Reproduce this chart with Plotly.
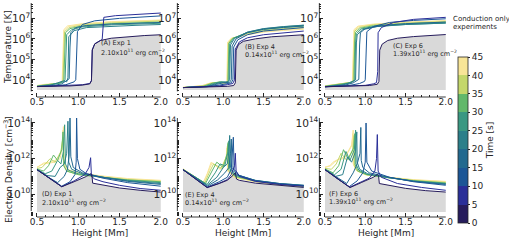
import plotly.graph_objects as go

# ---------------- data ----------------
times = [0, 5, 10, 15, 20, 25, 30, 35, 40, 45]
cbar_ticks = [0, 5, 10, 15, 20, 25, 30, 35, 40, 45]
bin_colors = ["#261c5c", "#2a2f98", "#1c5696", "#22698f", "#2b7f8a",
              "#3a9882", "#62b86b", "#c4d76b", "#f8e597"]

panel_labels = ["(A) Exp 1", "(B) Exp 4", "(C) Exp 6", "(D) Exp 1", "(E) Exp 4", "(F) Exp 6"]
panel_energy = ["2.10x10<sup>11</sup> erg cm<sup>−2</sup>", "0.14x10<sup>11</sup> erg cm<sup>−2</sup>",
                "1.39x10<sup>11</sup> erg cm<sup>−2</sup>"]

# Temperature, log10(T [K]) vs height [Mm]
A_x = [
    [0.5, 0.7, 0.9, 1.05, 1.14, 1.16, 1.17, 1.2, 1.27, 1.4, 1.6, 1.8, 2.0],
    [0.5, 0.7, 0.9, 1.05, 1.14, 1.16, 1.17, 1.2, 1.29, 1.30, 1.31, 1.45, 1.7, 2.0],
    [0.5, 0.7, 0.85, 0.95, 0.97, 0.98, 0.99, 1.05, 1.2, 1.5, 1.75, 2.0],
    [0.5, 0.7, 0.8, 0.86, 0.89, 0.9, 0.91, 0.97, 1.1, 1.4, 1.7, 2.0],
    [0.5, 0.65, 0.75, 0.82, 0.86, 0.875, 0.885, 0.95, 1.1, 1.4, 1.7, 2.0],
    [0.5, 0.65, 0.75, 0.82, 0.84, 0.85, 0.86, 0.92, 1.05, 1.4, 1.7, 2.0],
    [0.5, 0.62, 0.72, 0.8, 0.825, 0.835, 0.845, 0.9, 1.05, 1.4, 1.7, 2.0],
    [0.5, 0.6, 0.7, 0.78, 0.815, 0.825, 0.835, 0.89, 1.05, 1.4, 1.7, 2.0],
    [0.5, 0.6, 0.7, 0.77, 0.81, 0.82, 0.83, 0.88, 1.05, 1.4, 1.7, 2.0],
    [0.5, 0.6, 0.7, 0.77, 0.805, 0.815, 0.825, 0.87, 1.05, 1.4, 1.7, 2.0],
]
A_logT = [
    [3.67, 3.68, 3.70, 3.74, 3.80, 3.95, 5.45, 5.75, 5.92, 6.03, 6.11, 6.16, 6.20],
    [3.67, 3.69, 3.72, 3.76, 3.82, 3.97, 5.47, 5.76, 5.97, 6.6, 7.05, 7.13, 7.2, 7.26],
    [3.67, 3.70, 3.76, 3.90, 4.0, 5.5, 6.35, 6.7, 6.88, 7.0, 7.07, 7.12],
    [3.67, 3.72, 3.8, 3.95, 4.05, 5.6, 6.3, 6.55, 6.65, 6.72, 6.76, 6.8],
    [3.67, 3.72, 3.85, 3.95, 3.9, 4.1, 6.1, 6.4, 6.55, 6.62, 6.66, 6.7],
    [3.68, 3.74, 3.82, 3.9, 4.0, 5.9, 6.2, 6.45, 6.58, 6.68, 6.73, 6.76],
    [3.69, 3.75, 3.8, 3.86, 3.95, 5.9, 6.3, 6.5, 6.63, 6.74, 6.79, 6.82],
    [3.7, 3.76, 3.8, 3.84, 3.95, 5.9, 6.35, 6.55, 6.68, 6.78, 6.83, 6.87],
    [3.71, 3.77, 3.8, 3.84, 3.95, 6.0, 6.42, 6.6, 6.72, 6.82, 6.87, 6.9],
    [3.72, 3.78, 3.8, 3.84, 3.95, 6.05, 6.45, 6.63, 6.74, 6.84, 6.88, 6.92],
]
B_x = [
    [0.5, 0.7, 0.9, 1.05, 1.13, 1.15, 1.16, 1.19, 1.25, 1.4, 1.6, 1.8, 2.0],
    [0.5, 0.8, 0.95, 1.05, 1.12, 1.14, 1.15, 1.2, 1.3, 1.5, 1.75, 2.0],
    [0.5, 0.8, 0.95, 1.04, 1.1, 1.12, 1.13, 1.18, 1.3, 1.5, 1.75, 2.0],
    [0.5, 0.8, 0.92, 1.0, 1.08, 1.1, 1.11, 1.16, 1.3, 1.5, 1.75, 2.0],
    [0.5, 0.8, 0.9, 0.98, 1.06, 1.08, 1.09, 1.14, 1.3, 1.5, 1.75, 2.0],
    [0.5, 0.78, 0.88, 0.97, 1.05, 1.07, 1.08, 1.13, 1.3, 1.5, 1.75, 2.0],
    [0.5, 0.76, 0.87, 0.96, 1.04, 1.06, 1.07, 1.12, 1.3, 1.5, 1.75, 2.0],
    [0.5, 0.75, 0.86, 0.95, 1.035, 1.055, 1.065, 1.11, 1.3, 1.5, 1.75, 2.0],
    [0.5, 0.74, 0.85, 0.94, 1.03, 1.05, 1.06, 1.1, 1.3, 1.5, 1.75, 2.0],
    [0.5, 0.73, 0.84, 0.93, 1.03, 1.045, 1.055, 1.1, 1.3, 1.5, 1.75, 2.0],
]
B_logT = [
    [3.62, 3.63, 3.65, 3.68, 3.72, 3.85, 5.45, 5.72, 5.88, 6.0, 6.1, 6.15, 6.2],
    [3.62, 3.65, 3.7, 3.76, 3.82, 4.0, 5.5, 5.85, 6.05, 6.2, 6.3, 6.38],
    [3.62, 3.66, 3.74, 3.8, 3.85, 4.0, 5.6, 5.95, 6.2, 6.38, 6.48, 6.55],
    [3.62, 3.67, 3.78, 3.85, 3.88, 4.0, 5.65, 6.0, 6.3, 6.47, 6.56, 6.63],
    [3.62, 3.68, 3.8, 3.88, 3.9, 4.0, 5.7, 6.02, 6.33, 6.5, 6.6, 6.67],
    [3.62, 3.68, 3.82, 3.9, 3.88, 3.98, 5.75, 6.03, 6.32, 6.49, 6.59, 6.66],
    [3.62, 3.69, 3.84, 3.9, 3.86, 3.96, 5.78, 6.03, 6.3, 6.45, 6.55, 6.62],
    [3.62, 3.7, 3.85, 3.88, 3.84, 3.95, 5.8, 6.02, 6.26, 6.4, 6.5, 6.56],
    [3.63, 3.71, 3.85, 3.86, 3.82, 3.95, 5.82, 6.02, 6.22, 6.35, 6.44, 6.5],
    [3.63, 3.71, 3.84, 3.85, 3.82, 3.95, 5.85, 6.02, 6.2, 6.33, 6.41, 6.47],
]
C_x = [
    [0.5, 0.7, 0.9, 1.05, 1.15, 1.17, 1.18, 1.21, 1.28, 1.4, 1.6, 1.8, 2.0],
    [0.5, 0.8, 1.0, 1.1, 1.14, 1.155, 1.16, 1.2, 1.35, 1.6, 1.8, 2.0],
    [0.5, 0.8, 0.93, 0.99, 1.0, 1.01, 1.02, 1.1, 1.3, 1.6, 1.8, 2.0],
    [0.5, 0.75, 0.85, 0.9, 0.92, 0.93, 0.94, 1.0, 1.2, 1.5, 1.75, 2.0],
    [0.5, 0.72, 0.82, 0.87, 0.88, 0.89, 0.9, 0.97, 1.15, 1.5, 1.75, 2.0],
    [0.5, 0.7, 0.8, 0.85, 0.87, 0.88, 0.89, 0.95, 1.1, 1.5, 1.75, 2.0],
    [0.5, 0.68, 0.78, 0.84, 0.86, 0.87, 0.88, 0.94, 1.1, 1.5, 1.75, 2.0],
    [0.5, 0.66, 0.76, 0.83, 0.85, 0.86, 0.87, 0.93, 1.1, 1.5, 1.75, 2.0],
    [0.5, 0.65, 0.75, 0.82, 0.845, 0.855, 0.865, 0.92, 1.1, 1.5, 1.75, 2.0],
    [0.5, 0.64, 0.74, 0.82, 0.84, 0.85, 0.86, 0.91, 1.1, 1.5, 1.75, 2.0],
]
C_logT = [
    [3.66, 3.67, 3.69, 3.72, 3.78, 3.92, 5.45, 5.74, 5.92, 6.03, 6.11, 6.17, 6.21],
    [3.66, 3.69, 3.73, 3.8, 3.86, 4.4, 6.3, 6.55, 6.8, 6.95, 7.01, 7.05],
    [3.66, 3.72, 3.82, 3.92, 4.0, 5.6, 6.35, 6.6, 6.8, 6.9, 6.94, 6.98],
    [3.66, 3.74, 3.85, 3.95, 4.02, 5.7, 6.3, 6.5, 6.65, 6.74, 6.78, 6.82],
    [3.66, 3.75, 3.86, 3.95, 4.0, 5.8, 6.2, 6.45, 6.6, 6.7, 6.74, 6.77],
    [3.67, 3.76, 3.85, 3.92, 3.98, 5.85, 6.25, 6.48, 6.6, 6.7, 6.74, 6.77],
    [3.68, 3.77, 3.84, 3.9, 3.96, 5.9, 6.32, 6.52, 6.64, 6.74, 6.78, 6.81],
    [3.69, 3.78, 3.83, 3.88, 3.95, 5.95, 6.38, 6.56, 6.68, 6.77, 6.81, 6.84],
    [3.7, 3.78, 3.83, 3.87, 3.95, 6.0, 6.42, 6.6, 6.7, 6.8, 6.84, 6.87],
    [3.71, 3.79, 3.83, 3.87, 3.95, 6.05, 6.45, 6.62, 6.72, 6.82, 6.86, 6.89],
]

# Electron density, log10(n_e [cm^-3]) vs height [Mm]
D_x = [
    [0.5, 0.65, 0.8, 0.95, 1.1, 1.15, 1.165, 1.175, 1.3, 1.5, 1.75, 2.0],
    [0.5, 0.65, 0.8, 0.95, 1.08, 1.13, 1.15, 1.16, 1.2, 1.3, 1.5, 1.75, 2.0],
    [0.5, 0.65, 0.8, 0.9, 0.96, 0.975, 0.98, 0.99, 1.02, 1.1, 1.3, 1.6, 2.0],
    [0.5, 0.62, 0.75, 0.83, 0.87, 0.89, 0.9, 0.91, 0.94, 1.05, 1.3, 1.6, 2.0],
    [0.5, 0.62, 0.72, 0.78, 0.83, 0.86, 0.875, 0.885, 0.92, 1.05, 1.3, 1.6, 2.0],
    [0.5, 0.6, 0.68, 0.75, 0.79, 0.82, 0.835, 0.845, 0.88, 1.0, 1.3, 1.6, 2.0],
    [0.5, 0.58, 0.64, 0.7, 0.75, 0.8, 0.815, 0.825, 0.86, 1.0, 1.3, 1.6, 2.0],
    [0.5, 0.56, 0.6, 0.66, 0.72, 0.79, 0.815, 0.825, 0.86, 1.0, 1.3, 1.6, 2.0],
    [0.5, 0.58, 0.65, 0.72, 0.78, 0.81, 0.82, 0.83, 0.87, 1.0, 1.3, 1.6, 2.0],
    [0.5, 0.58, 0.65, 0.72, 0.78, 0.805, 0.815, 0.825, 0.865, 1.0, 1.3, 1.6, 2.0],
]
D_logn = [
    [11.38, 10.9, 10.42, 10.7, 11.0, 11.15, 11.1, 10.62, 10.5, 10.35, 10.22, 10.12],
    [11.38, 10.9, 10.42, 10.75, 11.1, 11.5, 12.05, 11.0, 10.85, 10.7, 10.5, 10.32, 10.22],
    [11.38, 10.9, 10.45, 10.7, 11.1, 11.8, 14.4, 12.0, 11.4, 11.15, 10.9, 10.65, 10.45],
    [11.38, 11.0, 10.65, 11.0, 11.4, 12.2, 14.4, 12.1, 11.5, 11.2, 10.95, 10.72, 10.55],
    [11.38, 11.05, 11.0, 11.5, 11.7, 12.3, 14.1, 11.8, 11.4, 11.15, 10.95, 10.75, 10.6],
    [11.4, 11.15, 11.3, 11.9, 11.7, 12.4, 13.9, 11.7, 11.35, 11.15, 10.95, 10.78, 10.65],
    [11.42, 11.3, 11.6, 12.2, 11.9, 12.5, 13.5, 11.6, 11.3, 11.1, 10.95, 10.8, 10.7],
    [11.45, 11.5, 11.7, 12.0, 11.8, 12.4, 13.2, 11.6, 11.3, 11.1, 10.95, 10.82, 10.72],
    [11.5, 11.75, 11.8, 11.9, 12.2, 12.8, 13.8, 11.7, 11.35, 11.15, 11.0, 10.85, 10.75],
    [11.52, 11.7, 11.75, 11.8, 12.0, 12.6, 13.6, 11.75, 11.4, 11.2, 11.02, 10.88, 10.78],
]
E_x = [
    [0.5, 0.65, 0.8, 0.95, 1.05, 1.12, 1.15, 1.165, 1.2, 1.4, 1.7, 2.0],
    [0.5, 0.65, 0.8, 0.95, 1.05, 1.1, 1.14, 1.15, 1.16, 1.2, 1.4, 1.7, 2.0],
    [0.5, 0.65, 0.8, 0.95, 1.05, 1.1, 1.115, 1.125, 1.135, 1.2, 1.4, 1.7, 2.0],
    [0.5, 0.65, 0.8, 0.93, 1.02, 1.07, 1.09, 1.1, 1.11, 1.17, 1.4, 1.7, 2.0],
    [0.5, 0.65, 0.8, 0.92, 1.0, 1.05, 1.07, 1.08, 1.09, 1.15, 1.4, 1.7, 2.0],
    [0.5, 0.65, 0.8, 0.9, 0.96, 1.02, 1.06, 1.07, 1.08, 1.15, 1.4, 1.7, 2.0],
    [0.5, 0.65, 0.78, 0.86, 0.92, 1.0, 1.05, 1.06, 1.07, 1.15, 1.4, 1.7, 2.0],
    [0.5, 0.65, 0.77, 0.83, 0.88, 0.98, 1.045, 1.055, 1.065, 1.14, 1.4, 1.7, 2.0],
    [0.5, 0.65, 0.76, 0.81, 0.86, 0.97, 1.04, 1.05, 1.06, 1.14, 1.4, 1.7, 2.0],
    [0.5, 0.65, 0.75, 0.8, 0.85, 0.96, 1.035, 1.045, 1.055, 1.13, 1.4, 1.7, 2.0],
]
E_logn = [
    [11.38, 10.9, 10.37, 10.6, 10.78, 11.05, 11.2, 10.85, 10.78, 10.62, 10.48, 10.38],
    [11.38, 10.9, 10.38, 10.62, 10.82, 11.1, 11.6, 12.3, 11.3, 11.0, 10.72, 10.55, 10.45],
    [11.38, 10.9, 10.4, 10.7, 10.95, 11.4, 12.2, 13.2, 11.4, 11.05, 10.75, 10.58, 10.47],
    [11.38, 10.95, 10.45, 10.8, 11.2, 11.5, 12.3, 13.1, 11.5, 11.1, 10.77, 10.6, 10.5],
    [11.38, 10.95, 10.5, 10.95, 11.5, 11.7, 12.4, 13.3, 11.5, 11.1, 10.78, 10.6, 10.5],
    [11.38, 10.95, 10.55, 11.2, 11.7, 11.6, 12.4, 13.0, 11.45, 11.05, 10.76, 10.58, 10.48],
    [11.4, 10.95, 10.6, 11.3, 11.8, 11.5, 12.3, 12.9, 11.4, 11.0, 10.74, 10.56, 10.46],
    [11.4, 10.95, 10.62, 11.25, 11.7, 11.45, 12.2, 12.8, 11.35, 10.98, 10.72, 10.54, 10.44],
    [11.42, 10.98, 10.65, 11.2, 11.75, 11.4, 12.1, 12.7, 11.3, 10.95, 10.7, 10.52, 10.42],
    [11.42, 10.98, 10.65, 11.15, 11.8, 11.4, 12.0, 12.6, 11.3, 10.95, 10.7, 10.52, 10.42],
]
F_x = [
    [0.5, 0.65, 0.81, 0.95, 1.1, 1.15, 1.165, 1.175, 1.3, 1.5, 1.75, 2.0],
    [0.5, 0.65, 0.81, 0.95, 1.05, 1.12, 1.14, 1.15, 1.16, 1.2, 1.4, 1.7, 2.0],
    [0.5, 0.65, 0.8, 0.9, 0.97, 1.0, 1.005, 1.01, 1.02, 1.08, 1.3, 1.6, 2.0],
    [0.5, 0.65, 0.77, 0.85, 0.9, 0.935, 0.945, 0.95, 0.97, 1.05, 1.3, 1.6, 2.0],
    [0.5, 0.63, 0.72, 0.78, 0.83, 0.88, 0.895, 0.9, 0.93, 1.03, 1.3, 1.6, 2.0],
    [0.5, 0.62, 0.7, 0.76, 0.81, 0.865, 0.88, 0.885, 0.92, 1.02, 1.3, 1.6, 2.0],
    [0.5, 0.6, 0.67, 0.73, 0.79, 0.855, 0.87, 0.875, 0.91, 1.02, 1.3, 1.6, 2.0],
    [0.5, 0.58, 0.64, 0.7, 0.77, 0.845, 0.86, 0.865, 0.9, 1.02, 1.3, 1.6, 2.0],
    [0.5, 0.57, 0.62, 0.68, 0.75, 0.835, 0.85, 0.855, 0.89, 1.0, 1.3, 1.6, 2.0],
    [0.5, 0.56, 0.6, 0.66, 0.74, 0.83, 0.845, 0.85, 0.885, 1.0, 1.3, 1.6, 2.0],
]
F_logn = [
    [11.38, 10.88, 10.37, 10.65, 10.95, 11.1, 11.05, 10.6, 10.48, 10.33, 10.2, 10.12],
    [11.38, 10.88, 10.4, 10.7, 10.9, 11.3, 12.0, 13.35, 11.3, 10.95, 10.6, 10.38, 10.22],
    [11.38, 10.9, 10.42, 10.75, 11.2, 11.8, 12.5, 14.0, 11.8, 11.3, 10.95, 10.7, 10.5],
    [11.38, 10.95, 10.6, 11.2, 11.7, 12.3, 13.75, 11.9, 11.5, 11.2, 10.95, 10.72, 10.55],
    [11.38, 11.0, 11.1, 12.1, 11.8, 12.4, 13.5, 11.8, 11.4, 11.15, 10.93, 10.73, 10.58],
    [11.4, 11.1, 11.4, 12.4, 11.9, 12.5, 13.6, 11.7, 11.35, 11.12, 10.92, 10.74, 10.6],
    [11.42, 11.2, 11.6, 12.5, 11.95, 12.6, 13.4, 11.65, 11.3, 11.1, 10.92, 10.76, 10.63],
    [11.45, 11.4, 11.7, 12.3, 11.9, 12.5, 13.3, 11.6, 11.3, 11.08, 10.92, 10.78, 10.66],
    [11.5, 11.6, 11.8, 12.0, 12.1, 12.8, 13.6, 11.7, 11.35, 11.1, 10.95, 10.8, 10.7],
    [11.52, 11.6, 11.8, 11.95, 12.0, 12.7, 13.4, 11.7, 11.35, 11.1, 10.95, 10.82, 10.72],
]

# ---------------- layout helpers (pixel geometry) ----------------
W, H = 509, 241
AX = "#262626"
FONT = "DejaVu Sans"
XMIN = 0.43
col_x05 = [37, 183, 325]      # pixel of height 0.5
col_x20 = [161, 304, 446]     # pixel of height 2.0
rows = [  # (top px, bottom px, log range, dtick, fill floor (log))
    (3, 97, [3.16, 7.75], 1, 3.5),
    (118, 217, [8.72, 14.28], 2, 9.0),
]

panels = [(A_x, A_logT), (B_x, B_logT), (C_x, C_logT),
          (D_x, D_logn), (E_x, E_logn), (F_x, F_logn)]

def tcolor(t):
    return bin_colors[min(int(t // 5), len(bin_colors) - 1)]

fig = go.Figure()
layout_axes = {}
shapes = []

for k, (xs_all, ys_all) in enumerate(panels):
    r, c = divmod(k, 3)
    n = k + 1
    xa = "x" if n == 1 else f"x{n}"
    ya = "y" if n == 1 else f"y{n}"
    top, bot, yrng, dt, floor = rows[r]
    scale = (col_x20[c] - col_x05[c]) / 1.5
    left_px = col_x05[c] - (0.5 - XMIN) * scale
    for xs, ys in zip(xs_all, ys_all):
        if len(xs) != len(ys):
            raise ValueError("length mismatch in panel %d" % n)
    # gray fill under the initial profile
    x0, y0 = xs_all[0], ys_all[0]
    fig.add_trace(go.Scatter(
        x=list(x0) + [x0[-1], x0[0]],
        y=[10 ** v for v in y0] + [10 ** floor, 10 ** floor],
        fill="toself", fillcolor="#d9d9d9", line=dict(width=0),
        mode="lines", hoverinfo="skip", showlegend=False, xaxis=xa, yaxis=ya))
    for t, xs, ys in reversed(list(zip(times, xs_all, ys_all))):
        fig.add_trace(go.Scatter(
            x=xs, y=[10 ** v for v in ys], mode="lines",
            line=dict(color=tcolor(t), width=1),
            hoverinfo="skip", showlegend=False, xaxis=xa, yaxis=ya))
    key_x = "xaxis" if n == 1 else f"xaxis{n}"
    key_y = "yaxis" if n == 1 else f"yaxis{n}"
    layout_axes[key_x] = dict(
        domain=[left_px / W, col_x20[c] / W], range=[XMIN, 2.003], anchor=ya,
        showline=False, showgrid=False, zeroline=False, automargin=False,
        ticks="inside", ticklen=4, tickwidth=0.8, tickcolor=AX,
        tick0=0.5, dtick=0.5, tickformat=".1f", ticklabelstandoff=-2,
        minor=dict(ticks="inside", ticklen=2, tickwidth=0.6, tickcolor=AX, dtick=0.1, showgrid=False),
        tickfont=dict(family=FONT, size=9, color=AX))
    layout_axes[key_y] = dict(
        domain=[1 - bot / H, 1 - top / H], type="log", range=yrng, anchor=xa,
        showline=False, showgrid=False, zeroline=False, automargin=False,
        ticks="inside", ticklen=4, tickwidth=0.8, tickcolor=AX,
        dtick=dt, exponentformat="power",
        minor=dict(ticks="inside", ticklen=2, tickwidth=0.6, tickcolor=AX, dtick="D1", showgrid=False),
        tickfont=dict(family=FONT, size=8.5, color=AX))
    # trimmed spines
    shapes.append(dict(type="line", xref=xa, yref=f"{ya} domain", x0=0.5, x1=2.0, y0=0, y1=0,
                       line=dict(color=AX, width=0.9)))
    shapes.append(dict(type="line", xref=f"{xa} domain", yref=f"{ya} domain", x0=0, x1=0, y0=0.06, y1=1,
                       line=dict(color=AX, width=0.9)))

# discrete colour bar
nb = len(bin_colors)
cscale = []
for i, col in enumerate(bin_colors):
    cscale.append([i / nb, col])
    cscale.append([(i + 1) / nb, col])
fig.add_trace(go.Scatter(
    x=[None], y=[None], mode="markers", showlegend=False, hoverinfo="skip",
    marker=dict(color=[0], cmin=0, cmax=45, colorscale=cscale, showscale=True,
                colorbar=dict(x=458 / W, xanchor="left", y=1 - 140 / H, yanchor="middle",
                              len=166, lenmode="pixels", thickness=10, thicknessmode="pixels",
                              xpad=0, ypad=0,
                              outlinewidth=0.8, outlinecolor=AX,
                              tickvals=cbar_ticks, ticks="outside", ticklen=2, tickcolor=AX,
                              tickfont=dict(family=FONT, size=9, color=AX),
                              title=dict(text="Time [s]", side="right",
                                         font=dict(family=FONT, size=9, color=AX)))),
    xaxis="x", yaxis="y"))

# annotations
ann = []
def add_text(text, px, py, size, xanchor="left", angle=0):
    ann.append(dict(text=text, x=px / W, y=1 - py / H, xref="paper", yref="paper",
                    xanchor=xanchor, yanchor="middle", showarrow=False, textangle=angle,
                    font=dict(family=FONT, size=size, color=AX)))

label_pos = [(99, 43, 52), (243, 47, 55), (391, 46, 54),
             (40, 194, 202), (183, 195, 202), (327, 194, 201)]
for k, (px, py1, py2) in enumerate(label_pos):
    add_text(panel_labels[k], px, py1, 6.5)
    add_text(panel_energy[k % 3], px, py2, 6.5)

add_text("Conduction only", 451, 19, 7)
add_text("experiments", 451, 27, 7)
add_text("Temperature [K]", 8, 47, 9, xanchor="center", angle=-90)
add_text("Electron Density [cm<sup>−3</sup>]", 8, 170, 9, xanchor="center", angle=-90)
for cx in [100, 243, 386]:
    add_text("Height [Mm]", cx, 233, 9, xanchor="center")

fig.update_layout(
    width=W, height=H, autosize=False,
    margin=dict(l=0, r=0, t=0, b=0, pad=0, autoexpand=False),
    paper_bgcolor="white", plot_bgcolor="white",
    font=dict(family=FONT, size=9, color=AX),
    showlegend=False, shapes=shapes, annotations=ann,
    **layout_axes)

fig.write_html("out.html", config={"displayModeBar": False},
               post_script="document.body.style.margin='0';document.body.style.overflow='hidden';")
